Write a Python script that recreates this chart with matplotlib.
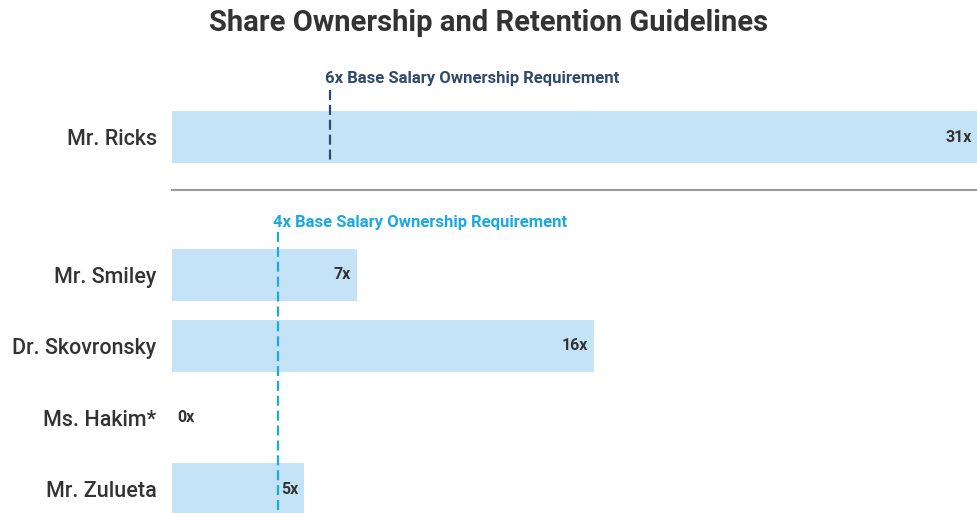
import matplotlib
matplotlib.use("Agg")
import matplotlib.pyplot as plt

# ---- data ----
top_names = ["Mr. Ricks"]
top_values = [31]
top_requirement = 6
bottom_names = ["Mr. Smiley", "Dr. Skovronsky", "Ms. Hakim*", "Mr. Zulueta"]
bottom_values = [7, 16, 0, 5]
bottom_requirement = 4
title = "Share Ownership and Retention Guidelines"

# ---- style ----
FONT = "Roboto"
BAR = "#C4E3F6"
NAVY = "#2F4A6E"
CYAN = "#1AA9E2"
TXT = "#333333"
W, H, DPI = 978, 513, 100
PX_PER_UNIT = 26.4      # x scale
ROW_PX = 71.5           # row pitch in pixels
BAR_H = 52 / ROW_PX

fig = plt.figure(figsize=(W / DPI, H / DPI), dpi=DPI)
fig.patch.set_facecolor("white")
left = 172 / W
xmax = (W - 172) / PX_PER_UNIT


def make_axes(top_px, bot_px):
    return fig.add_axes([left, (H - bot_px) / H, 1 - left, (bot_px - top_px) / H])


def style(ax, names):
    ax.set_xlim(0, xmax)
    ax.set_xticks([])
    ax.set_yticks(range(len(names)))
    ax.set_yticklabels(names, fontsize=15.5, fontfamily=FONT, fontweight="medium", color=TXT)
    ax.tick_params(axis="y", length=0, pad=11)
    for s in ["top", "right", "left", "bottom"]:
        ax.spines[s].set_visible(False)
    ax.set_facecolor("none")


def draw(ax, names, values, req, color, line_top, line_bot, label_y):
    ys = list(range(len(names)))
    ax.barh(ys, values, height=BAR_H, color=BAR, zorder=1)
    for y, v in zip(ys, values):
        if v > 0:
            end = min(v, xmax)
            ax.text(end - 6 / PX_PER_UNIT, y, f"{v}x", ha="right", va="center",
                    fontsize=11.5, fontweight="bold", fontfamily=FONT, color=TXT, zorder=3)
        else:
            ax.text(5 / PX_PER_UNIT, y, f"{v}x", ha="left", va="center",
                    fontsize=11.5, fontweight="bold", fontfamily=FONT, color=TXT, zorder=3)
    ax.plot([req, req], [line_top, line_bot], color=color, lw=1.6,
            linestyle=(0, (4.5, 2.2)), zorder=2, clip_on=False)
    ax.text(req - 5 / PX_PER_UNIT, label_y, f"{req}x Base Salary Ownership Requirement",
            ha="left", va="center", fontsize=12, fontweight="bold", fontfamily=FONT, color=color)


# top axes (Mr. Ricks)
ax1 = make_axes(60, 190)
style(ax1, top_names)
c = 137
ax1.set_ylim((190 - c) / ROW_PX, -(c - 60) / ROW_PX)
draw(ax1, top_names, top_values, top_requirement, NAVY,
     (90 - c) / ROW_PX, (163 - c) / ROW_PX, (79 - c) / ROW_PX)
ax1.spines["bottom"].set_visible(True)
ax1.spines["bottom"].set_color("#9A9A9A")
ax1.spines["bottom"].set_linewidth(1.5)

# bottom axes
ax2 = make_axes(200, 513)
style(ax2, bottom_names)
c0 = 274.5
ax2.set_ylim((513 - c0) / ROW_PX, -(c0 - 200) / ROW_PX)
draw(ax2, bottom_names, bottom_values, bottom_requirement, CYAN,
     (232 - c0) / ROW_PX, (520 - c0) / ROW_PX, (222 - c0) / ROW_PX)

fig.text(0.5, 1 - 23 / H, title, ha="center", va="center", fontsize=21,
         fontweight="bold", fontfamily=FONT, color=TXT)

fig.savefig("out.png", dpi=DPI)
